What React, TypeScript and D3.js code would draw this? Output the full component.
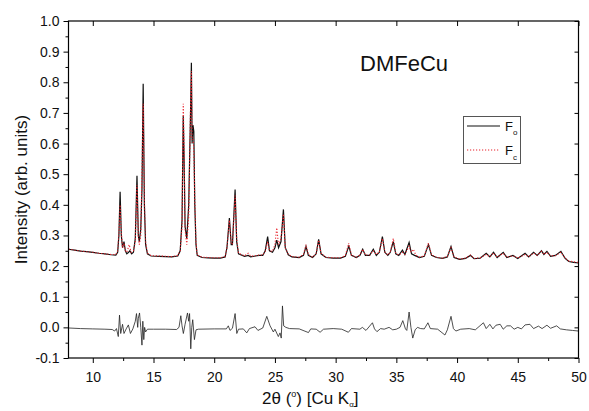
import { useEffect, useRef } from 'react';
import * as d3 from 'd3';

const observed: [number, number][] = [
  [8.0, 0.255], [8.5, 0.252], [9.0, 0.249], [9.5, 0.247], [10.0, 0.245], [10.5, 0.242],
  [11.0, 0.24], [11.5, 0.237], [11.9, 0.236], [12.05, 0.245], [12.15, 0.3], [12.25, 0.443],
  [12.35, 0.3], [12.45, 0.26], [12.57, 0.28], [12.68, 0.25], [12.8, 0.24], [12.95, 0.245],
  [13.05, 0.25], [13.2, 0.24], [13.35, 0.245], [13.5, 0.29], [13.64, 0.495], [13.75, 0.3],
  [13.83, 0.28], [13.95, 0.32], [14.05, 0.45], [14.15, 0.795], [14.25, 0.4], [14.35, 0.27],
  [14.5, 0.24], [14.8, 0.233], [15.5, 0.232], [16.0, 0.231], [16.5, 0.23], [17.0, 0.233],
  [17.2, 0.25], [17.35, 0.35], [17.45, 0.69], [17.52, 0.55], [17.6, 0.33], [17.74, 0.29],
  [17.9, 0.4], [18.05, 0.7], [18.12, 0.864], [18.18, 0.6], [18.25, 0.66], [18.32, 0.64],
  [18.4, 0.4], [18.5, 0.27], [18.6, 0.235], [19.0, 0.228], [19.5, 0.227], [20.0, 0.226],
  [20.5, 0.226], [20.9, 0.23], [21.05, 0.26], [21.25, 0.357], [21.4, 0.27], [21.5, 0.27],
  [21.72, 0.45], [21.85, 0.28], [22.0, 0.24], [22.5, 0.232], [22.8, 0.235], [23.0, 0.23],
  [23.4, 0.233], [23.7, 0.235], [24.0, 0.235], [24.2, 0.25], [24.4, 0.296], [24.55, 0.25],
  [24.8, 0.245], [25.0, 0.26], [25.15, 0.285], [25.3, 0.26], [25.5, 0.28], [25.7, 0.385],
  [25.85, 0.26], [26.1, 0.237], [26.4, 0.23], [27.0, 0.228], [27.35, 0.235], [27.56, 0.264],
  [27.75, 0.235], [28.1, 0.228], [28.4, 0.24], [28.6, 0.287], [28.8, 0.24], [29.2, 0.228],
  [29.8, 0.226], [30.4, 0.226], [30.8, 0.232], [31.08, 0.265], [31.3, 0.235], [31.7, 0.228],
  [32.0, 0.235], [32.23, 0.255], [32.45, 0.235], [32.8, 0.235], [33.1, 0.255], [33.35, 0.235],
  [33.6, 0.245], [33.85, 0.296], [34.05, 0.245], [34.3, 0.235], [34.5, 0.245], [34.75, 0.28],
  [34.95, 0.24], [35.2, 0.235], [35.5, 0.252], [35.7, 0.238], [36.05, 0.277], [36.25, 0.24],
  [36.5, 0.235], [36.9, 0.228], [37.3, 0.232], [37.64, 0.27], [37.9, 0.235], [38.3, 0.228],
  [38.8, 0.225], [39.2, 0.23], [39.5, 0.264], [39.75, 0.228], [40.2, 0.222], [40.7, 0.225],
  [41.1, 0.235], [41.4, 0.224], [41.9, 0.226], [42.4, 0.242], [42.7, 0.23], [43.0, 0.245],
  [43.3, 0.228], [43.8, 0.245], [44.1, 0.228], [44.6, 0.235], [45.0, 0.225], [45.6, 0.242],
  [45.9, 0.23], [46.3, 0.245], [46.6, 0.235], [46.95, 0.25], [47.15, 0.238], [47.4, 0.248],
  [47.7, 0.232], [48.1, 0.235], [48.55, 0.248], [48.9, 0.225], [49.2, 0.215], [49.6, 0.212],
  [50.0, 0.21],
];

// calculated pattern
const calculated: [number, number][] = [
  [8.0, 0.256], [8.5, 0.252], [9.0, 0.249], [9.5, 0.247], [10.0, 0.245], [10.5, 0.242],
  [11.0, 0.24], [11.5, 0.238], [11.9, 0.238], [12.05, 0.25], [12.15, 0.31], [12.25, 0.4],
  [12.35, 0.31], [12.45, 0.26], [12.57, 0.275], [12.68, 0.25], [12.8, 0.245], [13.0, 0.27],
  [13.15, 0.245], [13.35, 0.25], [13.5, 0.28], [13.64, 0.465], [13.75, 0.3], [13.83, 0.27],
  [13.95, 0.3], [14.05, 0.5], [14.15, 0.73], [14.25, 0.42], [14.35, 0.28], [14.5, 0.242],
  [14.8, 0.234], [15.5, 0.233], [16.0, 0.232], [16.5, 0.231], [17.0, 0.235], [17.2, 0.25],
  [17.35, 0.33], [17.45, 0.73], [17.52, 0.6], [17.6, 0.32], [17.74, 0.27], [17.9, 0.36],
  [18.05, 0.72], [18.12, 0.837], [18.18, 0.62], [18.25, 0.62], [18.32, 0.58], [18.4, 0.42],
  [18.5, 0.28], [18.6, 0.236], [19.0, 0.229], [19.5, 0.228], [20.0, 0.227], [20.5, 0.227],
  [20.9, 0.231], [21.05, 0.26], [21.25, 0.35], [21.4, 0.275], [21.5, 0.27], [21.72, 0.43],
  [21.85, 0.29], [22.0, 0.242], [22.5, 0.233], [22.8, 0.242], [23.0, 0.232], [23.4, 0.234],
  [23.7, 0.236], [24.0, 0.236], [24.2, 0.248], [24.4, 0.28], [24.55, 0.25], [24.8, 0.248],
  [25.0, 0.27], [25.15, 0.325], [25.3, 0.27], [25.5, 0.29], [25.7, 0.37], [25.85, 0.26],
  [26.1, 0.238], [26.4, 0.231], [27.0, 0.229], [27.35, 0.238], [27.56, 0.27], [27.75, 0.238],
  [28.1, 0.229], [28.4, 0.242], [28.6, 0.285], [28.8, 0.242], [29.2, 0.229], [29.8, 0.227],
  [30.4, 0.227], [30.8, 0.234], [31.08, 0.275], [31.3, 0.236], [31.7, 0.229], [32.0, 0.236],
  [32.23, 0.255], [32.45, 0.236], [32.8, 0.236], [33.1, 0.25], [33.35, 0.238], [33.6, 0.246],
  [33.85, 0.29], [34.05, 0.246], [34.3, 0.236], [34.5, 0.246], [34.75, 0.29], [34.95, 0.242],
  [35.2, 0.236], [35.5, 0.245], [35.7, 0.238], [36.05, 0.265], [36.2, 0.245], [36.4, 0.255],
  [36.6, 0.236], [36.9, 0.229], [37.3, 0.233], [37.64, 0.275], [37.9, 0.236], [38.3, 0.229],
  [38.8, 0.226], [39.2, 0.232], [39.5, 0.26], [39.75, 0.23], [40.2, 0.223], [40.7, 0.226],
  [41.1, 0.236], [41.4, 0.225], [41.9, 0.227], [42.4, 0.238], [42.7, 0.23], [43.0, 0.243],
  [43.3, 0.229], [43.8, 0.242], [44.1, 0.229], [44.6, 0.234], [45.0, 0.226], [45.6, 0.238],
  [45.9, 0.23], [46.3, 0.243], [46.6, 0.235], [46.95, 0.248], [47.15, 0.238], [47.4, 0.245],
  [47.7, 0.233], [48.1, 0.234], [48.55, 0.245], [48.9, 0.226], [49.2, 0.217], [49.6, 0.214],
  [50.0, 0.212],
];

// difference curve (obs - calc)
const difference: [number, number][] = [
  [8.0, -0.002], [9.0, -0.004], [10.0, -0.005], [11.0, -0.006], [11.6, -0.007], [11.8, -0.012],
  [11.95, -0.004], [12.1, -0.03], [12.2, 0.04], [12.3, -0.02], [12.45, 0.01], [12.57, -0.02],
  [12.75, -0.005], [12.93, 0.008], [13.1, -0.02], [13.3, -0.005], [13.5, 0.02], [13.6, 0.045],
  [13.7, 0.0], [13.75, 0.03], [13.85, 0.047], [13.95, 0.0], [14.05, -0.058], [14.12, 0.02],
  [14.2, -0.04], [14.27, 0.0], [14.35, -0.015], [14.5, -0.006], [15.0, -0.006], [16.0, -0.006],
  [16.9, -0.007], [17.1, 0.0], [17.25, 0.038], [17.35, 0.005], [17.46, -0.02], [17.6, 0.01],
  [17.8, 0.047], [17.9, 0.02], [17.97, 0.045], [18.07, -0.07], [18.15, 0.0], [18.23, 0.025],
  [18.37, -0.04], [18.5, -0.008], [18.7, -0.006], [20.0, -0.005], [21.0, -0.005], [21.16, 0.005],
  [21.3, -0.01], [21.5, -0.003], [21.72, 0.045], [21.86, -0.02], [22.0, -0.006], [22.4, -0.005],
  [22.68, -0.018], [22.9, -0.004], [23.36, 0.002], [23.6, -0.01], [24.0, -0.002], [24.33, 0.036],
  [24.6, 0.005], [24.87, -0.015], [25.0, -0.006], [25.28, -0.03], [25.42, -0.018], [25.52, -0.035],
  [25.62, 0.07], [25.72, 0.005], [25.9, 0.0], [26.2, -0.004], [27.0, -0.005], [27.76, -0.017],
  [27.95, -0.005], [28.4, -0.006], [28.72, -0.016], [29.0, -0.006], [29.8, -0.004], [30.5, -0.006],
  [31.05, -0.016], [31.3, -0.004], [32.0, -0.006], [32.2, 0.0], [32.5, -0.01], [33.03, 0.015],
  [33.2, -0.005], [33.4, -0.014], [33.7, -0.004], [34.0, -0.006], [34.4, 0.0], [34.7, -0.008],
  [35.0, -0.006], [35.3, 0.0], [35.53, 0.022], [35.75, -0.005], [35.86, -0.01], [36.05, 0.05],
  [36.2, 0.0], [36.35, -0.035], [36.55, -0.008], [36.74, 0.0], [37.0, -0.004], [37.3, -0.005],
  [37.6, 0.015], [37.8, -0.004], [38.4, -0.006], [39.0, -0.025], [39.2, -0.008], [39.5, 0.036],
  [39.7, -0.004], [39.9, -0.012], [40.3, -0.006], [41.0, -0.004], [41.5, -0.008], [42.17, 0.015],
  [42.4, -0.004], [42.7, 0.01], [42.95, -0.005], [43.2, 0.007], [43.55, 0.01], [43.8, -0.006],
  [44.1, 0.005], [44.4, 0.005], [44.7, -0.006], [45.0, 0.0], [45.3, -0.005], [45.6, 0.008],
  [46.0, 0.01], [46.3, -0.004], [46.7, 0.004], [47.0, -0.004], [47.4, 0.007], [47.7, -0.003],
  [48.2, 0.005], [48.5, -0.005], [49.0, -0.008], [49.5, -0.01], [50.0, -0.012],
];

const xMajor = [10, 15, 20, 25, 30, 35, 40, 45, 50];
const xMinor = [12.5, 17.5, 22.5, 27.5, 32.5, 37.5, 42.5, 47.5];
const yMajor = [-0.1, 0, 0.1, 0.2, 0.3, 0.4, 0.5, 0.6, 0.7, 0.8, 0.9, 1.0];
const yMinor = [-0.05, 0.05, 0.15, 0.25, 0.35, 0.45, 0.55, 0.65, 0.75, 0.85, 0.95];

const FONT = 'Liberation Sans, Arial, sans-serif';

export default function App() {
  const svgRef = useRef<SVGSVGElement>(null);

  useEffect(() => {
    if (!svgRef.current) return;
    const svg = d3.select(svgRef.current);
    svg.selectAll('*').remove();

    const left = 68.5, right = 578.5, top = 21, bottom = 358;
    const x = d3.scaleLinear().domain([8, 50]).range([left, right]);
    const y = d3.scaleLinear().domain([-0.1, 1.0]).range([bottom, top]);

    svg.append('rect').attr('width', 589).attr('height', 411).attr('fill', '#fff');

    const line = d3.line<[number, number]>().x(d => x(d[0])).y(d => y(d[1]));

    // curves
    svg.append('path').datum(observed).attr('d', line)
      .attr('fill', 'none').attr('stroke', '#111').attr('stroke-width', 1.2);
    svg.append('path').datum(calculated).attr('d', line)
      .attr('fill', 'none').attr('stroke', '#e8202a').attr('stroke-width', 1.1)
      .attr('stroke-dasharray', '1.2,1.8');
    svg.append('path').datum(difference).attr('d', line)
      .attr('fill', 'none').attr('stroke', '#222').attr('stroke-width', 0.8);

    // axes
    const style = (g: any) => {
      g.select('.domain').remove();
      g.selectAll('line').attr('stroke', '#000');
      g.selectAll('text').attr('font-family', FONT).attr('font-size', 14).attr('fill', '#111');
    };

    svg.append('g').attr('transform', `translate(0,${bottom})`)
      .call(d3.axisBottom(x).tickValues(xMajor).tickSize(5).tickPadding(9).tickFormat(d => String(d)))
      .call(style);
    svg.append('g').attr('transform', `translate(0,${bottom})`)
      .call(d3.axisBottom(x).tickValues(xMinor).tickSize(3).tickFormat(() => ''))
      .call(style);
    svg.append('g').attr('transform', `translate(0,${top})`)
      .call(d3.axisBottom(x).tickValues(xMajor).tickSize(5).tickFormat(() => ''))
      .call(style);

    svg.append('g').attr('transform', `translate(${left},0)`)
      .call(d3.axisLeft(y).tickValues(yMajor).tickSize(5).tickPadding(4).tickFormat(d => (+d).toFixed(1)))
      .call(style);
    svg.append('g').attr('transform', `translate(${left},0)`)
      .call(d3.axisLeft(y).tickValues(yMinor).tickSize(3).tickFormat(() => ''))
      .call(style);
    svg.append('g').attr('transform', `translate(${right},0)`)
      .call(d3.axisLeft(y).tickValues(yMajor).tickSize(4).tickFormat(() => ''))
      .call(style);

    // frame
    svg.append('rect')
      .attr('x', left).attr('y', top).attr('width', right - left).attr('height', bottom - top)
      .attr('fill', 'none').attr('stroke', '#000').attr('stroke-width', 1.2);

    // axis titles
    svg.append('text')
      .attr('transform', `translate(27,${(top + bottom) / 2}) rotate(-90)`)
      .attr('text-anchor', 'middle').attr('font-family', FONT).attr('font-size', 17).attr('fill', '#111')
      .text('Intensity (arb. units)');

    const xt = svg.append('text')
      .attr('x', 262).attr('y', 404)
      .attr('font-family', FONT).attr('font-size', 17).attr('fill', '#111');
    xt.append('tspan').text('2θ (');
    xt.append('tspan').attr('dy', -7).attr('font-size', 9).text('o');
    xt.append('tspan').attr('dy', 7).text(') [Cu K');
    xt.append('tspan').attr('dy', 3).attr('font-size', 8).text('α');
    xt.append('tspan').attr('dy', -3).text(']');

    // sample name
    svg.append('text')
      .attr('x', 360).attr('y', 71)
      .attr('font-family', FONT).attr('font-size', 22).attr('fill', '#111')
      .text('DMFeCu');

    // legend
    const lg = svg.append('g');
    lg.append('rect').attr('x', 463.5).attr('y', 116.5).attr('width', 57).attr('height', 47)
      .attr('fill', '#fff').attr('stroke', '#555').attr('stroke-width', 1);
    lg.append('line').attr('x1', 467).attr('x2', 500).attr('y1', 126).attr('y2', 126)
      .attr('stroke', '#111').attr('stroke-width', 1.1);
    lg.append('line').attr('x1', 467).attr('x2', 500).attr('y1', 150).attr('y2', 150)
      .attr('stroke', '#e8202a').attr('stroke-width', 1.1).attr('stroke-dasharray', '1.2,1.8');
    const f1 = lg.append('text').attr('x', 505).attr('y', 131)
      .attr('font-family', FONT).attr('font-size', 13).attr('fill', '#111');
    f1.append('tspan').text('F');
    f1.append('tspan').attr('dy', 4).attr('font-size', 8).text('o');
    const f2 = lg.append('text').attr('x', 505).attr('y', 155)
      .attr('font-family', FONT).attr('font-size', 13).attr('fill', '#111');
    f2.append('tspan').text('F');
    f2.append('tspan').attr('dy', 5).attr('font-size', 8).text('c');
  }, []);

  return (
    <svg
      ref={svgRef}
      width={589}
      height={411}
      style={{ position: 'absolute', left: 0, top: 0, display: 'block' }}
    />
  );
}
